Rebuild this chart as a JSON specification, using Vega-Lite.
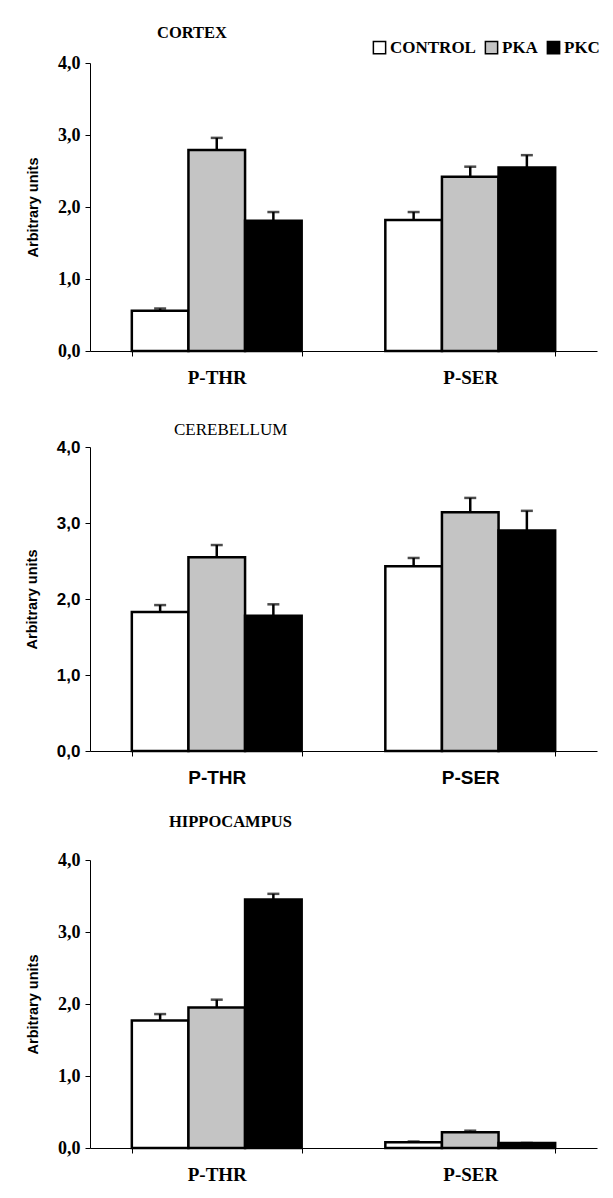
{
  "$schema": "https://vega.github.io/schema/vega-lite/v6.json",
  "background": "white",
  "padding": {"left": 24, "top": 24, "right": 0, "bottom": 0},
  "spacing": 26,
  "data": {"values": [
    {"region": "CORTEX", "site": "P-THR", "treatment": "CONTROL", "value": 0.56, "err": 0.59},
    {"region": "CORTEX", "site": "P-THR", "treatment": "PKA", "value": 2.79, "err": 2.96},
    {"region": "CORTEX", "site": "P-THR", "treatment": "PKC", "value": 1.81, "err": 1.93},
    {"region": "CORTEX", "site": "P-SER", "treatment": "CONTROL", "value": 1.82, "err": 1.93},
    {"region": "CORTEX", "site": "P-SER", "treatment": "PKA", "value": 2.42, "err": 2.56},
    {"region": "CORTEX", "site": "P-SER", "treatment": "PKC", "value": 2.55, "err": 2.72},
    {"region": "CEREBELLUM", "site": "P-THR", "treatment": "CONTROL", "value": 1.83, "err": 1.92},
    {"region": "CEREBELLUM", "site": "P-THR", "treatment": "PKA", "value": 2.55, "err": 2.71},
    {"region": "CEREBELLUM", "site": "P-THR", "treatment": "PKC", "value": 1.78, "err": 1.93},
    {"region": "CEREBELLUM", "site": "P-SER", "treatment": "CONTROL", "value": 2.43, "err": 2.54},
    {"region": "CEREBELLUM", "site": "P-SER", "treatment": "PKA", "value": 3.14, "err": 3.33},
    {"region": "CEREBELLUM", "site": "P-SER", "treatment": "PKC", "value": 2.9, "err": 3.16},
    {"region": "HIPPOCAMPUS", "site": "P-THR", "treatment": "CONTROL", "value": 1.77, "err": 1.86},
    {"region": "HIPPOCAMPUS", "site": "P-THR", "treatment": "PKA", "value": 1.95, "err": 2.06},
    {"region": "HIPPOCAMPUS", "site": "P-THR", "treatment": "PKC", "value": 3.45, "err": 3.53},
    {"region": "HIPPOCAMPUS", "site": "P-SER", "treatment": "CONTROL", "value": 0.08, "err": 0.09},
    {"region": "HIPPOCAMPUS", "site": "P-SER", "treatment": "PKA", "value": 0.22, "err": 0.24},
    {"region": "HIPPOCAMPUS", "site": "P-SER", "treatment": "PKC", "value": 0.07, "err": 0.07}
  ]},
  "vconcat": [
    {
      "spacing": 34,
      "vconcat": [
        {
          "width": 507, "height": 288,
          "title": {"text": "CORTEX", "anchor": "start", "frame": "group", "dx": 67, "dy": -2, "offset": 11, "font": "Liberation Serif", "fontSize": 16.5, "fontWeight": "bold", "color": "black"},
          "transform": [{"filter": "datum.region === 'CORTEX'"}],
          "encoding": {
            "x": {"field": "site", "type": "nominal", "sort": ["P-THR", "P-SER"], "scale": {"paddingInner": 0.33, "paddingOuter": 0.165},
              "axis": {"title": null, "labelAngle": 0, "tickBand": "extent", "tickSize": 5, "labelPadding": 12, "labelFont": "Liberation Serif", "labelFontSize": 19, "labelFontWeight": "bold"}},
            "xOffset": {"field": "treatment", "type": "nominal", "sort": ["CONTROL", "PKA", "PKC"]}
          },
          "layer": [
            {"mark": {"type": "bar", "stroke": "black", "strokeWidth": 2.5},
             "encoding": {
               "y": {"field": "value", "type": "quantitative", "scale": {"domain": [0, 4], "nice": false},
                 "axis": {"values": [0, 1, 2, 3, 4], "labelExpr": "replace(format(datum.value, '.1f'), '.', ',')", "title": "Arbitrary units", "titleFont": "Liberation Sans", "titleFontSize": 14.5, "titleFontWeight": "bold", "titlePadding": 17, "labelFont": "Liberation Serif", "labelFontSize": 18, "labelFontWeight": "bold", "labelPadding": 5, "tickSize": 5}},
               "color": {"field": "treatment", "type": "nominal", "sort": ["CONTROL", "PKA", "PKC"],
                 "scale": {"domain": ["CONTROL", "PKA", "PKC"], "range": ["white", "#c4c4c4", "black"]},
                 "legend": {"orient": "none", "legendX": 281, "legendY": -24, "direction": "horizontal", "title": null, "symbolType": "square", "symbolSize": 150, "symbolStrokeColor": "black", "symbolStrokeWidth": 1.5, "symbolOpacity": 1, "labelFont": "Liberation Serif", "labelFontSize": 17, "labelFontWeight": "bold", "labelColor": "black", "labelOffset": 2, "columnPadding": 6}}
             }},
            {"mark": {"type": "rule", "strokeWidth": 2.5, "color": "black"},
             "encoding": {"y": {"field": "value", "type": "quantitative"}, "y2": {"field": "err"}}},
            {"mark": {"type": "tick", "thickness": 2.5, "size": 12, "color": "black"},
             "encoding": {"y": {"field": "err", "type": "quantitative"}}}
          ]
        },
        {
          "width": 507, "height": 304,
          "title": {"text": "CEREBELLUM", "anchor": "start", "frame": "group", "dx": 84, "dy": 3, "offset": 2, "font": "Liberation Serif", "fontSize": 17, "fontWeight": "normal", "color": "black"},
          "transform": [{"filter": "datum.region === 'CEREBELLUM'"}],
          "encoding": {
            "x": {"field": "site", "type": "nominal", "sort": ["P-THR", "P-SER"], "scale": {"paddingInner": 0.33, "paddingOuter": 0.165},
              "axis": {"title": null, "labelAngle": 0, "tickBand": "extent", "tickSize": 5, "labelPadding": 12, "labelFont": "Liberation Sans", "labelFontSize": 19, "labelFontWeight": "bold"}},
            "xOffset": {"field": "treatment", "type": "nominal", "sort": ["CONTROL", "PKA", "PKC"]}
          },
          "layer": [
            {"mark": {"type": "bar", "stroke": "black", "strokeWidth": 2.5},
             "encoding": {
               "y": {"field": "value", "type": "quantitative", "scale": {"domain": [0, 4], "nice": false},
                 "axis": {"values": [0, 1, 2, 3, 4], "labelExpr": "replace(format(datum.value, '.1f'), '.', ',')", "title": "Arbitrary units", "titleFont": "Liberation Sans", "titleFontSize": 14.5, "titleFontWeight": "bold", "titlePadding": 17, "labelFont": "Liberation Sans", "labelFontSize": 17, "labelFontWeight": "bold", "labelPadding": 5, "tickSize": 5}},
               "color": {"field": "treatment", "type": "nominal", "sort": ["CONTROL", "PKA", "PKC"],
                 "scale": {"domain": ["CONTROL", "PKA", "PKC"], "range": ["white", "#c4c4c4", "black"]},
                 "legend": {"orient": "none", "legendX": 281, "legendY": -24, "direction": "horizontal", "title": null, "symbolType": "square", "symbolSize": 150, "symbolStrokeColor": "black", "symbolStrokeWidth": 1.5, "symbolOpacity": 1, "labelFont": "Liberation Serif", "labelFontSize": 17, "labelFontWeight": "bold", "labelColor": "black", "labelOffset": 2, "columnPadding": 6}}
             }},
            {"mark": {"type": "rule", "strokeWidth": 2.5, "color": "black"},
             "encoding": {"y": {"field": "value", "type": "quantitative"}, "y2": {"field": "err"}}},
            {"mark": {"type": "tick", "thickness": 2.5, "size": 12, "color": "black"},
             "encoding": {"y": {"field": "err", "type": "quantitative"}}}
          ]
        }
      ]
    },
    {
      "width": 507, "height": 288,
      "title": {"text": "HIPPOCAMPUS", "anchor": "start", "frame": "group", "dx": 79, "dy": -5, "offset": 16, "font": "Liberation Serif", "fontSize": 16.5, "fontWeight": "bold", "color": "black"},
      "transform": [{"filter": "datum.region === 'HIPPOCAMPUS'"}],
      "encoding": {
        "x": {"field": "site", "type": "nominal", "sort": ["P-THR", "P-SER"], "scale": {"paddingInner": 0.33, "paddingOuter": 0.165},
          "axis": {"title": null, "labelAngle": 0, "tickBand": "extent", "tickSize": 5, "labelPadding": 12, "labelFont": "Liberation Serif", "labelFontSize": 19, "labelFontWeight": "bold"}},
        "xOffset": {"field": "treatment", "type": "nominal", "sort": ["CONTROL", "PKA", "PKC"]}
      },
      "layer": [
        {"mark": {"type": "bar", "stroke": "black", "strokeWidth": 2.5},
         "encoding": {
           "y": {"field": "value", "type": "quantitative", "scale": {"domain": [0, 4], "nice": false},
             "axis": {"values": [0, 1, 2, 3, 4], "labelExpr": "replace(format(datum.value, '.1f'), '.', ',')", "title": "Arbitrary units", "titleFont": "Liberation Sans", "titleFontSize": 14.5, "titleFontWeight": "bold", "titlePadding": 17, "labelFont": "Liberation Serif", "labelFontSize": 18, "labelFontWeight": "bold", "labelPadding": 5, "tickSize": 5}},
           "color": {"field": "treatment", "type": "nominal", "sort": ["CONTROL", "PKA", "PKC"],
             "scale": {"domain": ["CONTROL", "PKA", "PKC"], "range": ["white", "#c4c4c4", "black"]},
             "legend": {"orient": "none", "legendX": 281, "legendY": -24, "direction": "horizontal", "title": null, "symbolType": "square", "symbolSize": 150, "symbolStrokeColor": "black", "symbolStrokeWidth": 1.5, "symbolOpacity": 1, "labelFont": "Liberation Serif", "labelFontSize": 17, "labelFontWeight": "bold", "labelColor": "black", "labelOffset": 2, "columnPadding": 6}}
         }},
        {"mark": {"type": "rule", "strokeWidth": 2.5, "color": "black"},
         "encoding": {"y": {"field": "value", "type": "quantitative"}, "y2": {"field": "err"}}},
        {"mark": {"type": "tick", "thickness": 2.5, "size": 12, "color": "black"},
         "encoding": {"y": {"field": "err", "type": "quantitative"}}}
      ]
    }
  ],
  "config": {
    "view": {"stroke": null},
    "axis": {"domainColor": "black", "tickColor": "black", "labelColor": "black", "titleColor": "black", "grid": false}
  }
}
